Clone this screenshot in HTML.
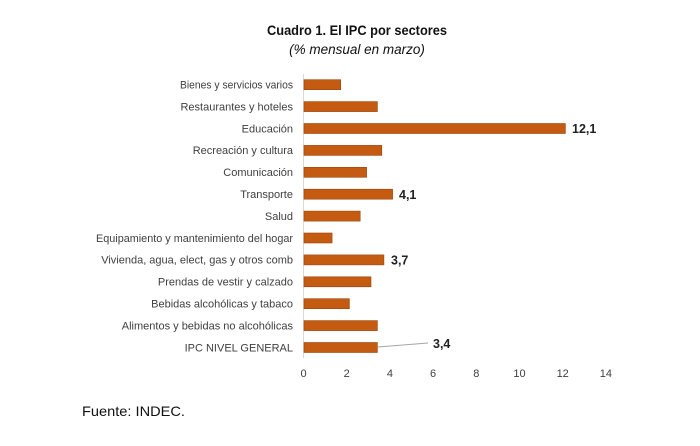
<!DOCTYPE html>
<html><head><meta charset="utf-8"><style>
body{margin:0;background:#fff;width:700px;height:441px;overflow:hidden}
svg{font-family:"Liberation Sans",sans-serif}
</style></head><body>
<svg width="700" height="441" xmlns="http://www.w3.org/2000/svg">
<text x="357" y="35" text-anchor="middle" font-size="14" font-weight="bold" fill="#111" textLength="180" lengthAdjust="spacingAndGlyphs">Cuadro 1. El IPC por sectores</text>
<text x="357" y="54" text-anchor="middle" font-size="13.5" font-style="italic" fill="#111">(% mensual en marzo)</text>
<line x1="303.5" y1="74" x2="303.5" y2="358" stroke="#d9d9d9" stroke-width="1"/>
<g font-size="11" fill="#404040" text-anchor="end">
<text x="293" y="88.5" textLength="113" lengthAdjust="spacingAndGlyphs">Bienes y servicios varios</text>
<text x="293" y="110.4">Restaurantes y hoteles</text>
<text x="293" y="132.3">Educación</text>
<text x="293" y="154.2">Recreación y cultura</text>
<text x="293" y="176.1">Comunicación</text>
<text x="293" y="198">Transporte</text>
<text x="293" y="219.9">Salud</text>
<text x="293" y="241.8" textLength="197" lengthAdjust="spacingAndGlyphs">Equipamiento y mantenimiento del hogar</text>
<text x="293" y="263.7">Vivienda, agua, elect, gas y otros comb</text>
<text x="293" y="285.6">Prendas de vestir y calzado</text>
<text x="293" y="307.5">Bebidas alcohólicas y tabaco</text>
<text x="293" y="329.4">Alimentos y bebidas no alcohólicas</text>
<text x="293" y="351.3">IPC NIVEL GENERAL</text>
</g>
<g fill="#c55a11" stroke="#9a4510" stroke-width="0.6">
<rect x="304" y="79.7" width="36.7" height="10"/>
<rect x="304" y="101.6" width="73.4" height="10"/>
<rect x="304" y="123.5" width="261.4" height="10"/>
<rect x="304" y="145.4" width="77.8" height="10"/>
<rect x="304" y="167.3" width="62.6" height="10"/>
<rect x="304" y="189.2" width="88.6" height="10"/>
<rect x="304" y="211.1" width="56.2" height="10"/>
<rect x="304" y="233" width="28.1" height="10"/>
<rect x="304" y="254.9" width="79.9" height="10"/>
<rect x="304" y="276.8" width="67" height="10"/>
<rect x="304" y="298.7" width="45.4" height="10"/>
<rect x="304" y="320.6" width="73.4" height="10"/>
<rect x="304" y="342.5" width="73.4" height="10"/>
</g>
<g font-size="12.5" font-weight="bold" fill="#222">
<text x="572" y="133">12,1</text>
<text x="399" y="199">4,1</text>
<text x="391" y="264.5">3,7</text>
<text x="433" y="348">3,4</text>
</g>
<line x1="378" y1="347" x2="428" y2="343" stroke="#a6a6a6" stroke-width="1"/>
<g font-size="11" fill="#404040" text-anchor="middle">
<text x="303.5" y="377">0</text><text x="346.7" y="377">2</text><text x="389.9" y="377">4</text><text x="433.1" y="377">6</text><text x="476.3" y="377">8</text><text x="519.5" y="377">10</text><text x="562.7" y="377">12</text><text x="605.9" y="377">14</text>
</g>
<text x="82" y="416" font-size="14" fill="#111" textLength="103" lengthAdjust="spacingAndGlyphs">Fuente: INDEC.</text>
</svg>
</body></html>
